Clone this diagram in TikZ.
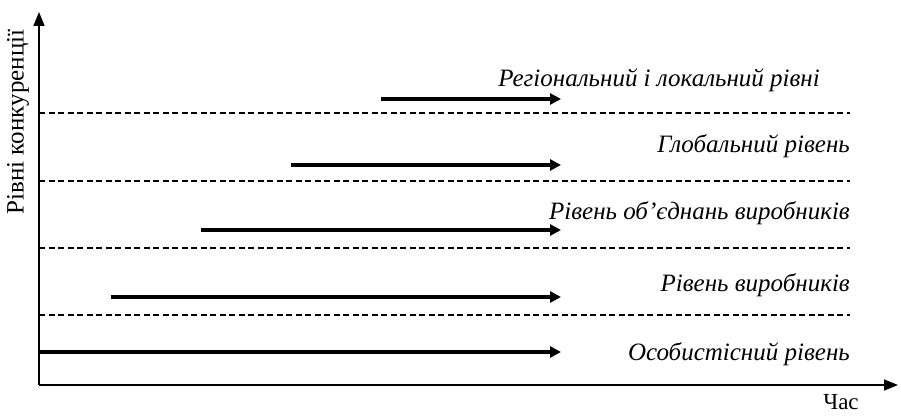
\documentclass[tikz,border=0pt]{standalone}
\usepackage{fontspec}
\setmainfont{Liberation Serif}
\usetikzlibrary{arrows.meta}

\begin{document}
\begin{tikzpicture}[x=1pt,y=1pt,
  axis/.style={line width=1.6pt,-{Triangle[length=14pt,width=11pt]}},
  flow/.style={line width=3.4pt,-{Triangle[length=11pt,width=11pt]}},
  sep/.style={line width=1.5pt,dash pattern=on 6pt off 3.5pt},
  lvl/.style={anchor=east,inner sep=0pt,font=\itshape\fontsize{25}{29}\selectfont}]

% Frame
\useasboundingbox (0,0) rectangle (901,415);

% Axes
\coordinate (O) at (39,30);
\coordinate (Ytop) at (39,403);
\coordinate (Xend) at (898,30);
\draw[axis] (O) -- (Ytop);
\draw[axis] (O) -- (Xend);

% Separators between levels
\coordinate (S1a) at (39,302);  \coordinate (S1b) at (850,302);
\coordinate (S2a) at (39,234);  \coordinate (S2b) at (850,234);
\coordinate (S3a) at (39,167);  \coordinate (S3b) at (850,167);
\coordinate (S4a) at (39,100);  \coordinate (S4b) at (850,100);
\draw[sep] (S1a) -- (S1b);
\draw[sep] (S2a) -- (S2b);
\draw[sep] (S3a) -- (S3b);
\draw[sep] (S4a) -- (S4b);

% Arrows of the levels
\coordinate (A1) at (381,316);  \coordinate (B1) at (561,316);
\coordinate (A2) at (291,250);  \coordinate (B2) at (561,250);
\coordinate (A3) at (201,185);  \coordinate (B3) at (561,185);
\coordinate (A4) at (111,118);  \coordinate (B4) at (561,118);
\coordinate (A5) at (39,63);    \coordinate (B5) at (561,63);
\draw[flow] (A1) -- (B1);
\draw[flow] (A2) -- (B2);
\draw[flow] (A3) -- (B3);
\draw[flow] (A4) -- (B4);
\draw[flow] (A5) -- (B5);

% Labels
\node[lvl] (reg) at (820,335) {Регіональний і локальний рівні};
\node[lvl] (glob) at (850,269) {Глобальний рівень};
\node[lvl] (obyed) at (850,202) {Рівень об’єднань виробників};
\node[lvl] (vyrob) at (850,130) {Рівень виробників};
\node[lvl] (osob) at (850,61) {Особистісний рівень};
\node[rotate=90,inner sep=0pt,font=\fontsize{25}{29}\selectfont] (ylab) at (18,293) {Рівні конкуренції};
\node[anchor=base,inner sep=0pt,font=\fontsize{23}{27}\selectfont] (xlab) at (841,6) {Час};

\end{tikzpicture}
\end{document}
